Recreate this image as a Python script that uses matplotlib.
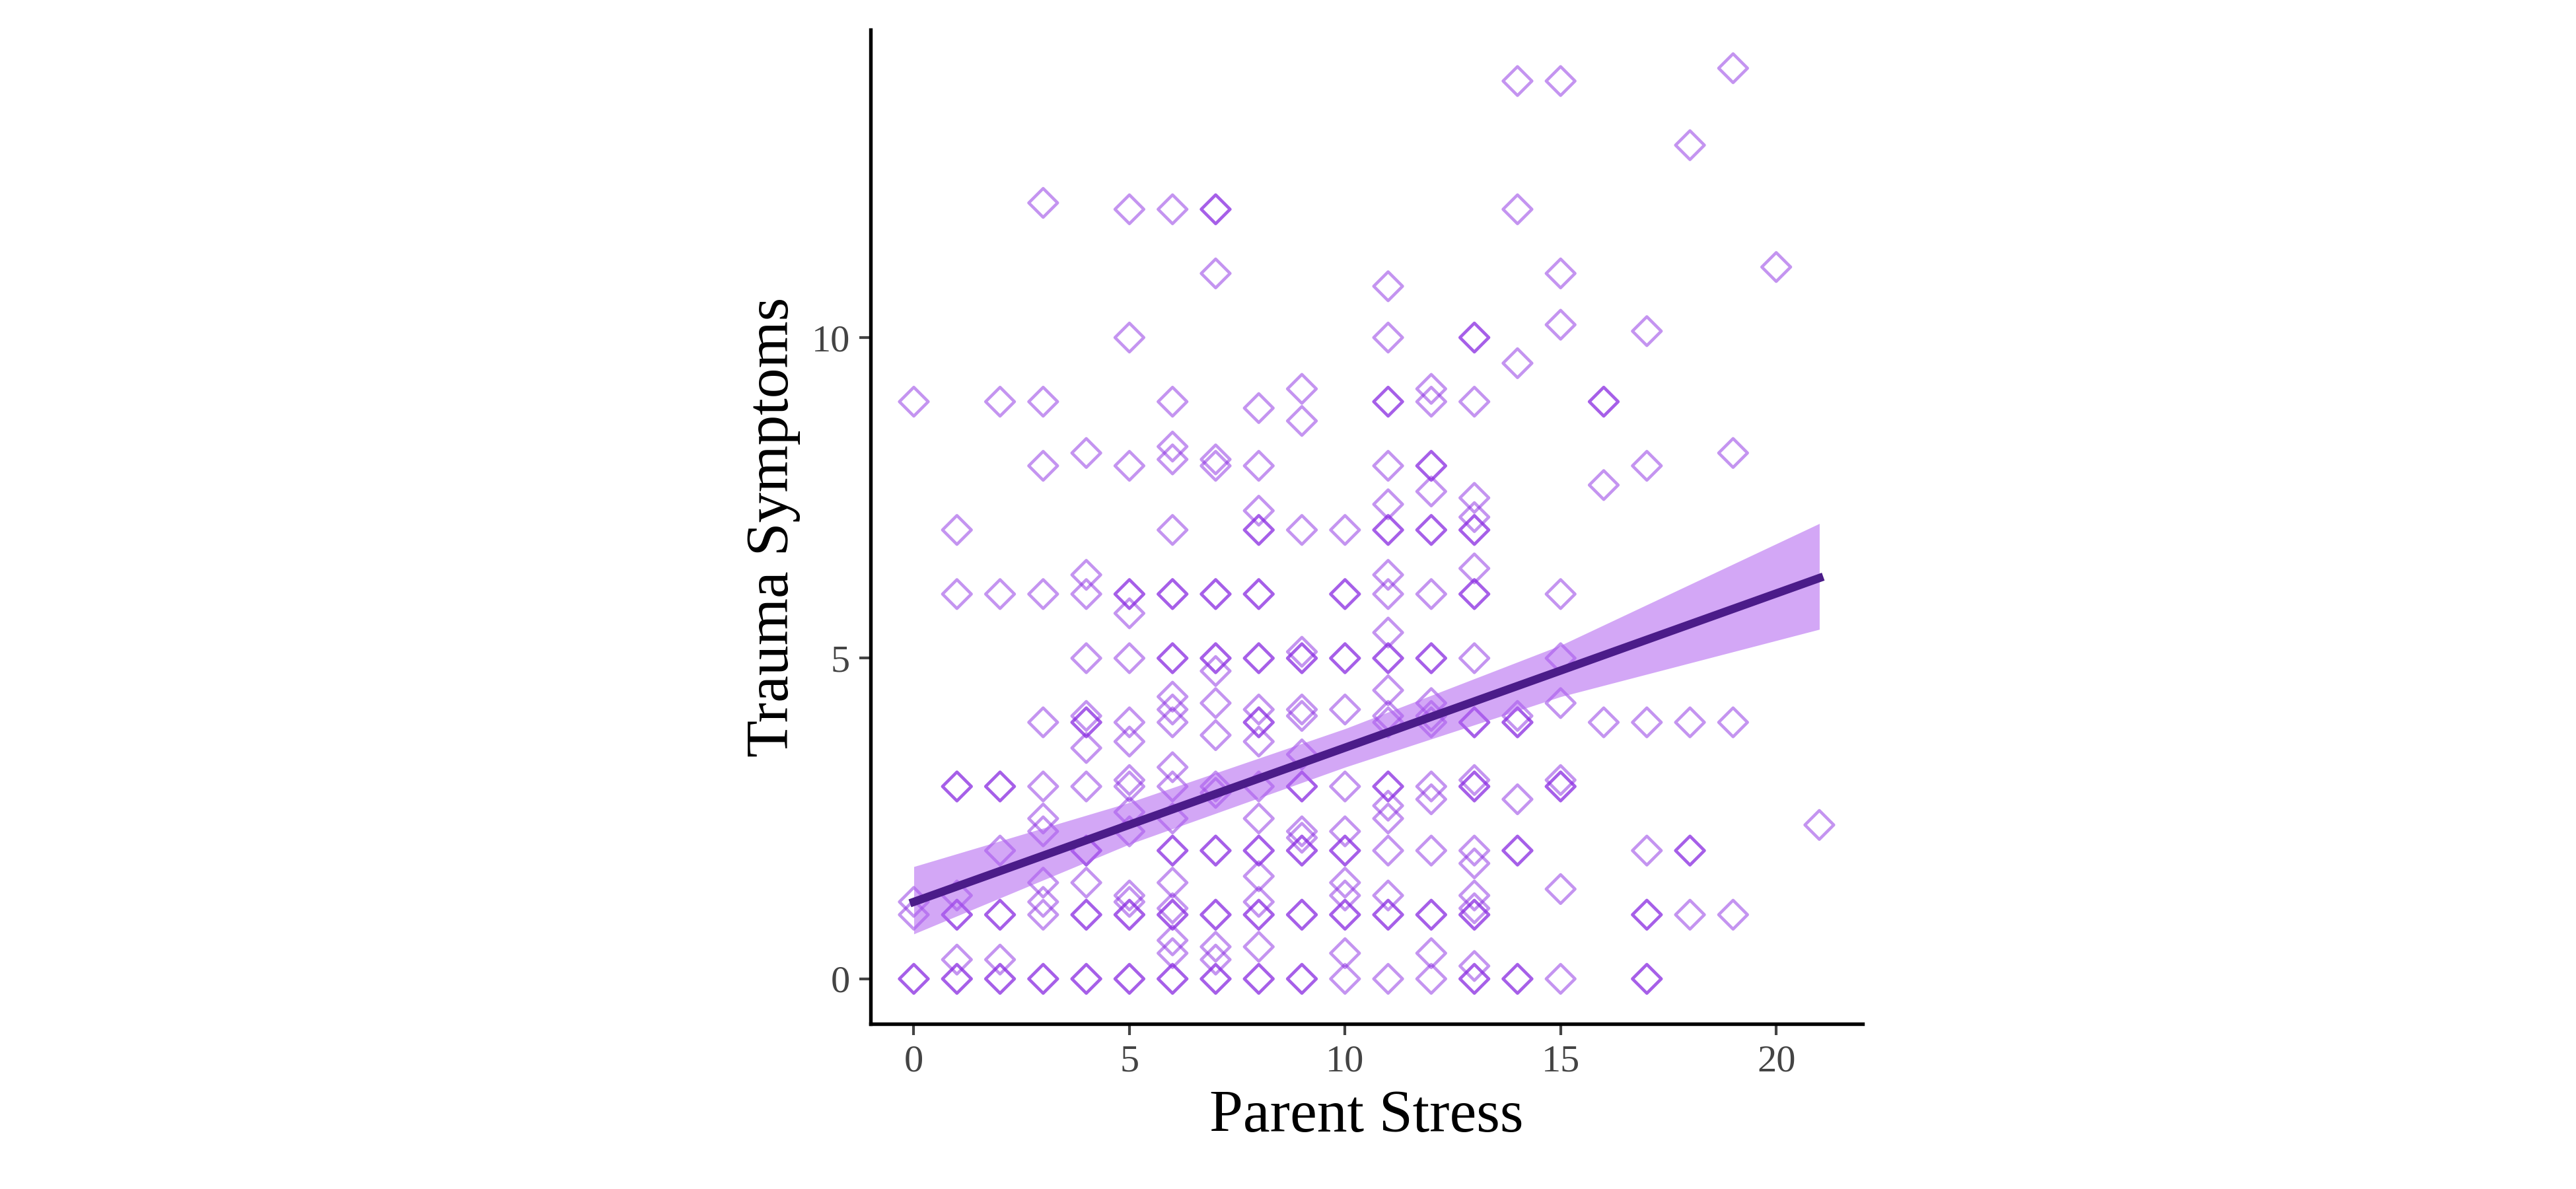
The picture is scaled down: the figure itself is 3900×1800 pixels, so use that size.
import matplotlib
matplotlib.use("Agg")
import matplotlib.pyplot as plt
import numpy as np

cols = {
0: [9,0,0,1,1.2],
1: [7,6,3,3,1,1,1.3,0.3,0,0],
2: [9,6,3,3,2,1,1,0.3,0,0],
3: [12.1,9,8,6,4,3,2.5,2.3,1.5,1.2,1,0,0],
4: [8.2,6.3,6,5,4.1,4,4,3.6,3,2,2,1.5,1,1,0,0],
5: [12,10,8,6,6,5.7,5,4,3.7,3.1,3,2.6,2.3,1.3,1.2,1,1,0,0],
6: [12,9,8.3,8.1,7,6,6,5,5,4.4,4.2,4,3.3,3,2.5,2,2,1.5,1.1,1,1,0.6,0.4,0,0],
7: [12,12,11,8.1,8,6,6,5,5,4.8,4.3,3.8,3,2.9,2,2,1,1,0.5,0.3,0,0],
8: [8.9,8,7.3,7,7,6,6,5,5,4.2,4,4,3.7,3,2.5,2,2,1.6,1.2,1,1,0.5,0,0],
9: [9.2,8.7,7,5.1,5,5,4.2,4.1,3.5,3,3,2.3,2.2,2,2,1,1,0,0],
10: [7,6,6,5,5,4.2,3,2.3,2,2,1.5,1.3,1,1,0.4,0],
11: [10.8,10,9,9,8,7.4,7,7,6.3,6,5.4,5,5,4.5,4.1,4,3,3,2.7,2.5,2,1.3,1,1,0],
12: [9.2,9,8,8,7.6,7,7,6,5,5,4.3,4.1,4,3,2.8,2,1,1,0.4,0],
13: [10,10,9,7.5,7.2,7,7,6.4,6,6,5,4,4,3.1,3,3,2,1.8,1.3,1.1,1,1,0.2,0,0],
14: [14,12,9.6,4.1,4,4,2.8,2,2,0,0],
15: [14,11,10.2,6,5,4.3,3.1,3,3,1.4,0],
16: [9,9,7.7,4],
17: [10.1,8,4,2,1,1,0,0],
18: [13,4,2,2,1],
19: [14.2,8.2,4,1],
20: [11.1],
21: [2.4],
}
parent_stress = [x for x, ys in cols.items() for _ in ys]
trauma = [y for ys in cols.values() for y in ys]

fit_x = [0, 21]
fit_y = [1.2, 6.25]
band_x = [0, 5, 10, 15, 21]
band_lo = [0.7, 2.1, 3.3, 4.4, 5.45]
band_hi = [1.75, 2.75, 3.9, 5.2, 7.1]

plt.rcParams['font.family'] = ['Liberation Serif', 'DejaVu Serif']
fig = plt.figure(figsize=(13, 6), dpi=300)
ax = fig.add_axes([0.338, 0.139, 0.385, 0.836])
ax.scatter(parent_stress, trauma, marker='D', s=55, facecolors='none',
           edgecolors='#8A2BE2', linewidths=1.1, alpha=0.5, zorder=2)
ax.fill_between(band_x, band_lo, band_hi, color='#B060F0', alpha=0.55, lw=0, zorder=3)
ax.plot(fit_x, fit_y, color='#4B1C89', lw=3, zorder=4)
ax.set_xlim(-1, 22)
ax.set_ylim(-0.7, 14.8)
ax.set_xticks([0, 5, 10, 15, 20])
ax.set_yticks([0, 5, 10])
ax.tick_params(labelsize=14, colors='#444444', width=1, length=4)
for s in ['top', 'right']:
    ax.spines[s].set_visible(False)
for s in ['left', 'bottom']:
    ax.spines[s].set_linewidth(1.3)
ax.set_xlabel('Parent Stress', fontsize=22)
ax.set_ylabel('Trauma Symptoms', fontsize=22)
fig.savefig('out.png', dpi=300)
